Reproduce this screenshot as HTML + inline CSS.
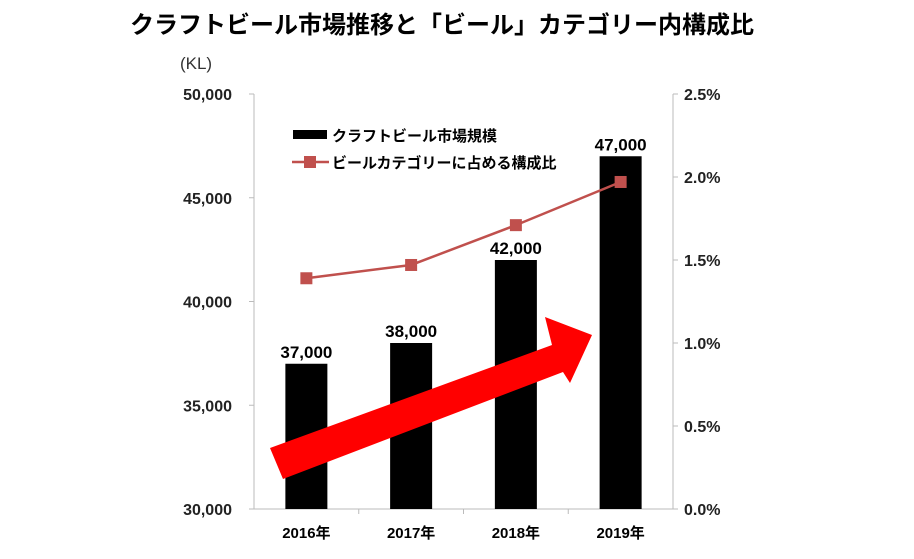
<!DOCTYPE html>
<html><head><meta charset="utf-8"><style>
body{margin:0;background:#fff;}
svg{display:block;font-family:"Liberation Sans","Noto Sans CJK JP",sans-serif;}
</style></head><body>
<svg width="914" height="559">
<text x="442" y="33" text-anchor="middle" font-size="24" font-weight="bold">クラフトビール市場推移と「ビール」カテゴリー内構成比</text>
<text x="196" y="69" text-anchor="middle" font-size="17" fill="#333">(KL)</text>
<g id="g"></g>
</svg>
<script>
const categories=["2016年","2017年","2018年","2019年"];
const marketSize=[37000,38000,42000,47000];
const shareValues=[1.39,1.47,1.71,1.97];
const leftTicks=[30000,35000,40000,45000,50000];
const rightTicks=[0,0.5,1,1.5,2,2.5];
const barLabels=["37,000","38,000","42,000","47,000"];
const NS="http://www.w3.org/2000/svg";
const g=document.getElementById('g');
const L=254,R=673,T=94,B=509;
const yL=v=>B-(v-30000)/20000*(B-T);
const yR=v=>B-v/2.5*(B-T);
const bw=(R-L)/categories.length;
const xC=i=>L+bw*(i+0.5);
function mk(t,a,txt){const e=document.createElementNS(NS,t);for(const k in a)e.setAttribute(k,a[k]);if(txt!=null)e.textContent=txt;g.appendChild(e);return e;}
let e;
e=mk('line',{x1:L,y1:T,x2:L,y2:B,stroke:'#bbb'});


e=mk('line',{x1:R,y1:T,x2:R,y2:B,stroke:'#bbb'});


e=mk('line',{x1:L,y1:B,x2:R,y2:B,stroke:'#bbb'});


leftTicks.forEach(v=>{
 mk('line',{x1:L-5,y1:yL(v),x2:L,y2:yL(v),stroke:'#bbb'});
 e=mk('text',{x:232,y:yL(v)+6,'text-anchor':'end','font-size':16,'font-weight':'bold',fill:'#222'},v.toLocaleString('en-US'));
 
 
});
rightTicks.forEach(v=>{
 mk('line',{x1:R,y1:yR(v),x2:R+5,y2:yR(v),stroke:'#bbb'});
 e=mk('text',{x:684,y:yR(v)+6,'font-size':16,'font-weight':'bold',fill:'#222'},v.toFixed(1)+'%');
 
 
});
for(let i=1;i<categories.length;i++){mk('line',{x1:L+bw*i,y1:B,x2:L+bw*i,y2:B+5,stroke:'#bbb'});}
categories.forEach((c,i)=>{
 e=mk('rect',{x:xC(i)-21,y:yL(marketSize[i]),width:42,height:B-yL(marketSize[i]),fill:'#000'});
 
 
 e=mk('text',{x:xC(i),y:yL(marketSize[i])-6,'text-anchor':'middle','font-size':17,'font-weight':'bold'},barLabels[i]);
 
 
 e=mk('text',{x:xC(i),y:538,'text-anchor':'middle','font-size':15,'font-weight':'bold'},c);
 
 
});
e=mk('polyline',{points:shareValues.map((v,i)=>xC(i)+','+yR(v)).join(' '),fill:'none',stroke:'#c0504d','stroke-width':2.5});


shareValues.forEach((v,i)=>{
 e=mk('rect',{x:xC(i)-6,y:yR(v)-6,width:12,height:12,fill:'#c0504d'});
 
 
});
e=mk('polygon',{points:'270,448 552,345 545,317 592,335 570,383 563,372 283,479',fill:'#f00'});


e=mk('rect',{x:293,y:130,width:34,height:9,fill:'#000'});


e=mk('text',{x:332,y:141,'font-size':15,'font-weight':'bold'},'クラフトビール市場規模');


e=mk('line',{x1:292,y1:162,x2:329,y2:162,stroke:'#c0504d','stroke-width':2.5});


mk('rect',{x:304,y:156,width:12,height:12,fill:'#c0504d'});
e=mk('text',{x:332,y:168,'font-size':15,'font-weight':'bold'},'ビールカテゴリーに占める構成比');


</script>
</body></html>
